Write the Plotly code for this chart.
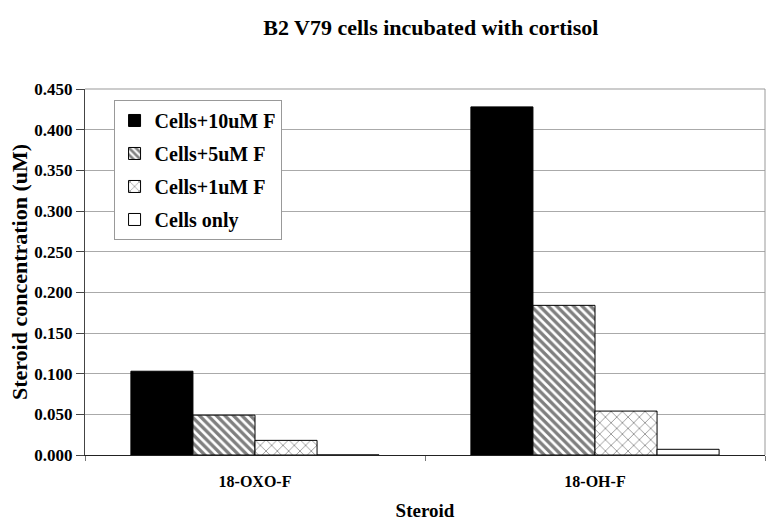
import plotly.graph_objects as go

categories = ["18-OXO-F", "18-OH-F"]
series_names = ["Cells+10uM F", "Cells+5uM F", "Cells+1uM F", "Cells only"]
values_10uM = [0.103, 0.428]
values_5uM = [0.049, 0.184]
values_1uM = [0.018, 0.054]
values_cells = [0.0, 0.007]
y_ticks = [0.0, 0.05, 0.1, 0.15, 0.2, 0.25, 0.3, 0.35, 0.4, 0.45]
y_tick_labels = ["%.3f" % v for v in y_ticks]

font_family = "Liberation Serif, Times New Roman, serif"

fig = go.Figure()
styles = [
    dict(color="black", pattern=None),
    dict(color="white", pattern=dict(shape="\\", fgcolor="black", bgcolor="white", size=6, solidity=0.55)),
    dict(color="white", pattern=dict(shape="x", fgcolor="black", bgcolor="white", size=8, solidity=0.18)),
    dict(color="white", pattern=None),
]
all_vals = [values_10uM, values_5uM, values_1uM, values_cells]
for i, (name, vals, st) in enumerate(zip(series_names, all_vals, styles)):
    marker = dict(color=st["color"], line=dict(color="black", width=1))
    if st["pattern"] is not None:
        marker["pattern"] = st["pattern"]
    fig.add_trace(go.Bar(name="<b>%s</b>" % name, x=categories, y=vals, marker=marker,
                         legendgroup=name))

fig.update_layout(
    width=779, height=530,
    margin=dict(l=85, r=14, t=89, b=75, autoexpand=False),
    paper_bgcolor="white", plot_bgcolor="white",
    barmode="group", bargap=0.27, bargroupgap=0,
    font=dict(family=font_family, color="black"),
    title=dict(text="<b>B2 V79 cells incubated with cortisol</b>", x=0.553, xanchor="center",
               y=0.949, yanchor="middle", font=dict(size=22)),
    legend=dict(x=0.042, y=0.970, xanchor="left", yanchor="top",
                bgcolor="white", bordercolor="#999999", borderwidth=1,
                font=dict(size=20), tracegroupgap=4, itemwidth=30),
    showlegend=True,
)
fig.update_yaxes(
    automargin=False,
    range=[0, 0.45], tickvals=y_ticks, ticktext=["<b>%s</b>" % t for t in y_tick_labels],
    tickfont=dict(size=17), ticks="outside", ticklen=8, tickcolor="#444444",
    showline=True, linecolor="#444444", linewidth=1, mirror=False,
    showgrid=True, gridcolor="#aaaaaa", gridwidth=1, zeroline=False,
    title=dict(text="<b>Steroid concentration (uM)</b>", font=dict(size=22), standoff=0),
)
fig.update_xaxes(
    automargin=False,
    tickson="boundaries", ticks="outside", ticklen=5, tickcolor="#777777",
    tickvals=categories, ticktext=["<b>%s</b>" % c for c in categories],
    tickfont=dict(size=16), ticklabelstandoff=12,
    showline=True, linecolor="#222222", linewidth=1,
    title=dict(text="<b>Steroid</b>", font=dict(size=19), standoff=14),
)
# grey frame at top and right of plot area
fig.add_shape(type="line", xref="paper", yref="paper", x0=0, x1=1, y0=1, y1=1,
              line=dict(color="#999999", width=1))
fig.add_shape(type="line", xref="paper", yref="paper", x0=1, x1=1, y0=0, y1=1,
              line=dict(color="#999999", width=1))

fig.write_html("out.html", config={"displayModeBar": False},
               post_script="document.body.style.margin='0';")
